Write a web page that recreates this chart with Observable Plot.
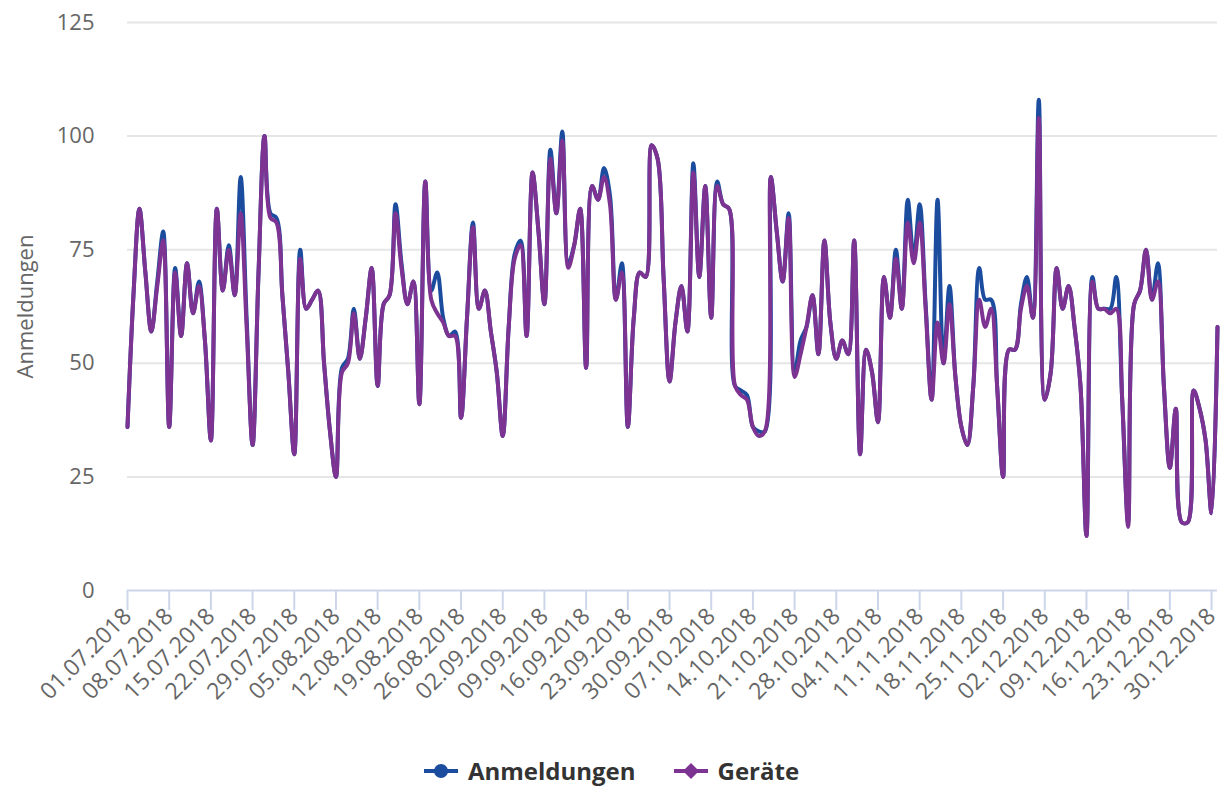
<!DOCTYPE html>
<html>
<head>
<meta charset="utf-8">
<script src="https://cdn.jsdelivr.net/npm/d3@7"></script>
<script src="https://cdn.jsdelivr.net/npm/@observablehq/plot@0.6"></script>
<style>
  body { margin: 0; background: #fff; font-family: "Open Sans", sans-serif; }
  #chart { position: relative; width: 1221px; height: 787px; overflow: hidden; }
  #legend { position: absolute; top: 754px; left: 0; width: 1221px; display: flex; justify-content: center; gap: 36px;
            font-family: "Open Sans", sans-serif; font-weight: bold; font-size: 24px; color: #333; }
  #legend .item { display: flex; align-items: center; gap: 8px; }
</style>
</head>
<body>
<div id="chart"><div id="plot"></div><div id="legend"></div></div>
<script>
// ---- Data ----
const startDate = "2018-07-01";
const seriesNames = ["Anmeldungen", "Geräte"];
const seriesColors = ["#1b4c9e", "#7d3391"];
const tickLabels = ["01.07.2018","08.07.2018","15.07.2018","22.07.2018","29.07.2018","05.08.2018","12.08.2018","19.08.2018","26.08.2018","02.09.2018","09.09.2018","16.09.2018","23.09.2018","30.09.2018","07.10.2018","14.10.2018","21.10.2018","28.10.2018","04.11.2018","11.11.2018","18.11.2018","25.11.2018","02.12.2018","09.12.2018","16.12.2018","23.12.2018","30.12.2018"];
const yTicks = [0, 25, 50, 75, 100, 125];

const anmeldungen = [
  36,65,84,70,57,68,79,36,71,56,72,61,68,55,33,84,66,76,65,91,60,32,70,100,83,82,65,48,30,75,
  62,64,66,50,35,25,49,51,62,51,60,71,45,63,65,85,72,63,68,41,90,66,70,60,56,57,38,60,81,62,
  66,57,48,34,58,74,77,56,92,79,63,97,83,101,72,76,84,49,89,86,93,87,64,72,36,60,70,69,98,95,
  69,46,59,67,57,94,69,89,60,90,85,84,45,44,43,36,35,35,91,79,68,83,48,55,58,65,52,77,59,51,
  55,52,77,30,53,48,37,69,60,75,62,86,73,85,63,42,86,50,67,47,36,32,45,71,64,64,45,25,53,53,
  63,69,60,108,42,48,71,62,67,58,45,12,69,62,62,62,69,42,15,63,66,75,64,72,45,27,40,15,15,44,
  40,33,17,58
];
const geraete = [
  36,65,84,70,57,67,77,36,70,56,72,61,67,55,33,84,66,75,65,83,58,32,70,100,82,81,65,48,30,73,
  62,64,66,50,35,25,48,50,61,51,60,71,45,63,65,83,71,63,68,41,90,64,61,59,56,56,38,60,80,62,
  66,57,48,34,58,73,76,56,92,79,63,95,83,99,71,76,84,49,89,86,91,85,64,70,36,60,70,69,98,95,
  69,46,59,67,57,92,69,89,60,89,85,84,45,43,42,36,34,35,91,79,68,82,47,52,58,65,52,77,59,51,
  55,52,77,30,53,48,37,69,60,73,62,81,72,81,62,42,59,50,63,47,36,32,45,64,58,62,45,25,53,53,
  62,67,60,104,42,48,71,62,67,58,45,12,68,62,62,61,62,42,14,63,66,75,64,68,45,27,40,15,15,44,
  40,33,17,58
];

// ---- Build table ----
const start = new Date(startDate + "T00:00:00Z");
const dates = anmeldungen.map((_, i) => d3.utcDay.offset(start, i));
const rows = [];
dates.forEach((d, i) => {
  rows.push({date: d, value: anmeldungen[i], series: seriesNames[0]});
  rows.push({date: d, value: geraete[i], series: seriesNames[1]});
});
const parseLabel = s => { const [dd, mm, yy] = s.split("."); return new Date(Date.UTC(+yy, +mm - 1, +dd)); };
const tickDates = tickLabels.map(parseLabel);
const labelByTime = new Map(tickDates.map((d, i) => [+d, tickLabels[i]]));

const chart = Plot.plot({
  width: 1221,
  height: 745,
  marginLeft: 127,
  marginRight: 4,
  marginTop: 22,
  marginBottom: 155,
  style: {fontFamily: "'Open Sans', sans-serif", fontSize: "22px", color: "#666", background: "transparent", overflow: "visible"},
  x: {type: "utc", domain: [dates[0], dates[dates.length - 1]]},
  y: {domain: [0, 125]},
  color: {domain: seriesNames, range: seriesColors},
  marks: [
    Plot.gridY(yTicks.filter(t => t > 0), {stroke: "#e6e6e6", strokeOpacity: 1, strokeWidth: 2}),
    Plot.axisY(yTicks, {tickSize: 0, tickPadding: 33, fill: "#666", fontSize: 22,
      label: "Anmeldungen", labelAnchor: "center", labelOffset: 110, labelArrow: false}),
    Plot.ruleY([0], {stroke: "#ccd6eb", strokeWidth: 2}),
    Plot.axisX(tickDates, {tickSize: 20, stroke: "#ccd6eb", strokeWidth: 2, strokeOpacity: 1, tickRotate: -45, tickPadding: 2,
      fill: "#666", fontSize: 23, tickFormat: d => labelByTime.get(+d), label: null}),
    Plot.line(rows, {x: "date", y: "value", z: "series", stroke: "series", strokeWidth: 4, curve: "catmull-rom"})
  ]
});
document.getElementById("plot").appendChild(chart);

// ---- Legend ----
const legend = document.getElementById("legend");
seriesNames.forEach((name, i) => {
  const item = document.createElement("div");
  item.className = "item";
  const c = seriesColors[i];
  const marker = i === 0
    ? `<circle cx="19" cy="10" r="7" fill="${c}"/>`
    : `<path d="M19 2 L27 10 L19 18 L11 10 Z" fill="${c}"/>`;
  item.innerHTML = `<svg width="38" height="20"><line x1="2" y1="10" x2="36" y2="10" stroke="${c}" stroke-width="4"/>${marker}</svg><span>${name}</span>`;
  legend.appendChild(item);
});
</script>
</body>
</html>
